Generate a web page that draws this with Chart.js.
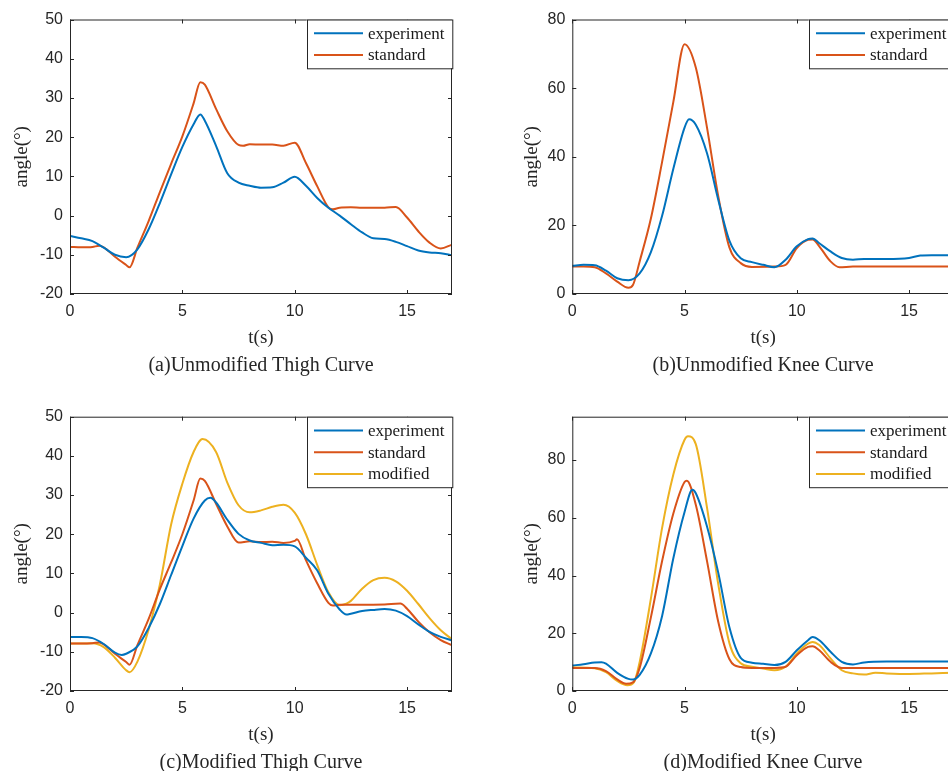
<!DOCTYPE html>
<html>
<head>
<meta charset="utf-8">
<script src="https://cdn.jsdelivr.net/npm/chart.js@4.4.0/dist/chart.umd.min.js"></script>
<style>
  html, body { margin: 0; padding: 0; background: #fff; overflow: hidden; width: 948px; height: 771px; }
  .panel { position: absolute; }
  .caption { position: absolute; font-family: "Liberation Serif", serif; font-size: 20px; line-height: 24px; color: #262626; white-space: nowrap; transform: translateX(-50%); }
</style>
</head>
<body>
<canvas id="thighRaw" class="panel"></canvas>
<canvas id="kneeRaw" class="panel"></canvas>
<canvas id="thighMod" class="panel"></canvas>
<canvas id="kneeMod" class="panel"></canvas>
<div class="caption" style="left:261px; top:352px;">(a)Unmodified Thigh Curve</div>
<div class="caption" style="left:763px; top:352px;">(b)Unmodified Knee Curve</div>
<div class="caption" style="left:261px; top:749px;">(c)Modified Thigh Curve</div>
<div class="caption" style="left:763px; top:749px;">(d)Modified Knee Curve</div>
<script>
const seriesNames = ['experiment', 'standard', 'modified'];
const seriesColors = ['#0072BD', '#D95319', '#EDB120'];

// (a) unmodified thigh
const thighRawExpT = [0,0.5,1,1.5,2,2.5,3,3.5,4,4.5,5,5.5,5.8,6,6.5,7,7.5,8,8.5,9,9.5,10,10.5,11,11.5,12,12.5,13,13.5,14,14.5,15,15.5,16,16.5,17];
const thighRawExpY = [-5.2,-5.8,-6.5,-8.2,-10.0,-10.6,-8.6,-3.5,3.2,10.5,17.5,23.3,25.8,24.2,17.8,10.8,8.4,7.6,7.1,7.2,8.4,9.9,7.6,4.5,2.0,0,-2.2,-4.3,-5.8,-6.0,-6.7,-7.8,-8.9,-9.4,-9.6,-10.1];
const thighRawStdT = [0,0.5,1,1.3,1.5,2,2.5,2.65,3,3.5,4,4.5,5,5.5,5.8,6,6.5,7,7.5,7.7,8,8.5,9,9.5,10,10.5,11,11.5,11.7,12,12.5,13,13.5,14,14.5,15,15.5,16,16.5,17];
const thighRawStdY = [-8.0,-8.1,-8.0,-7.7,-8.1,-10.5,-12.6,-13.2,-8.2,-1.4,6.0,13.2,20.2,28.6,34.0,33.4,27.2,21.5,18.0,17.8,18.2,18.1,18.1,17.8,18.6,13.4,7.5,2.1,1.6,2.0,2.1,2.0,2.0,2.0,2.2,-0.5,-4.0,-6.9,-8.4,-7.4];

// (b) unmodified knee
const kneeRawExpT = [0,0.5,1,1.5,2,2.5,3,3.5,4,4.5,5,5.2,5.5,6,6.5,7,7.5,8,8.5,9,9.5,10,10.5,10.7,11,11.5,12,12.5,13,14,15,15.5,16,17];
const kneeRawExpY = [8.2,8.5,8.4,6.8,4.6,4.0,6.0,12.2,22.8,36.5,48.5,50.9,49.3,41,27.5,15.5,10.4,9.3,8.5,7.8,10.0,13.9,16.0,16.2,14.8,12.4,10.5,10.0,10.2,10.2,10.5,11.2,11.3,11.3];
const kneeRawStdT = [0,0.5,1,1.5,2,2.5,2.7,3,3.5,4,4.5,5,5.5,6,6.5,7,7.5,8,9,9.5,10,10.5,10.7,11,11.5,11.9,12.5,17];
const kneeRawStdY = [8.0,8.0,7.8,6.0,3.6,1.8,2.6,9.5,22,38.5,56,72.8,66,48.5,28.5,13.5,9,7.9,8,8.5,13.4,15.8,15.9,13.9,9.5,7.8,8,8];

// (c) modified thigh
const thighModExpT = [0,0.5,1,1.5,2,2.3,2.5,3,3.5,4,4.5,5,5.5,6,6.25,6.5,7,7.5,8,8.5,9,9.5,10,10.5,11,11.5,12,12.3,12.5,13,13.5,14,14.5,15,15.5,16,16.5,17];
const thighModExpY = [-6.2,-6.2,-6.5,-8.0,-10.2,-10.8,-10.5,-8.6,-3.9,2.2,9.6,17,24,28.6,29.3,28.1,23.7,20.1,18.4,17.8,17.2,17.3,16.9,14,10.8,4.8,0.8,-0.5,-0.3,0.4,0.7,0.9,0.5,-0.9,-3.0,-4.9,-6.2,-7.1];
const thighModStdT = [0,0.5,1,1.3,1.5,2,2.5,2.65,3,3.5,4,4.5,5,5.5,5.8,6,6.5,7,7.5,8,8.5,9,9.5,10,10.1,10.5,11,11.5,11.7,12,13,14,14.7,15,15.5,16,16.5,17];
const thighModStdY = [-7.9,-7.9,-7.8,-7.6,-8.1,-10.5,-12.6,-13.3,-8.3,-1.6,6.0,12.8,20,28.6,34.2,33.6,27.8,22,17.9,18.2,18,18.1,17.8,18.3,18.7,13.4,7.5,2.5,1.8,2.0,2.0,2.1,2.3,1.0,-2.3,-5.0,-7.0,-8.3];
const thighModModT = [0,0.5,1,1.5,2,2.5,2.65,3,3.5,4,4.5,5,5.5,5.9,6.5,7,7.5,8,8.5,9,9.5,10,10.5,11,11.5,12,12.3,12.5,13,13.5,14,14.5,15,15.5,16,16.5,17];
const thighModModY = [-7.9,-7.9,-7.8,-8.8,-11.5,-14.7,-15.2,-12.5,-4.3,7.2,22.5,32.9,41,44.3,41,33.2,27.4,25.6,26.1,27,27.5,25.5,20,12.2,5.2,1.9,2.3,3.0,6.1,8.3,8.9,8.0,5.6,2.2,-1.4,-4.5,-6.8];

// (d) modified knee
const kneeModExpT = [0,0.5,1,1.3,1.5,2,2.5,2.7,3,3.5,4,4.5,5,5.35,5.5,6,6.5,7,7.5,8,8.5,9,9.5,10,10.5,10.7,11,11.5,12,12.5,13,14,15,17];
const kneeModExpY = [8.8,9.3,9.9,10.0,9.5,6.3,4.2,4.0,5.6,13,26,46,62,69.7,68.5,57,41,22,11.5,9.8,9.4,9,10.1,14.1,17.6,18.7,17.6,13.6,10.1,9.2,9.9,10.2,10.2,10.2];
const kneeModStdT = [0,1,1.5,2,2.4,2.7,3,3.5,4,4.5,5,5.1,5.5,6,6.5,7,7.5,8,9,9.5,10,10.5,10.7,11,11.5,12,17];
const kneeModStdY = [8,8,6.9,4.0,2.5,3.0,8,25.5,45,61.5,72.4,72.8,64.5,45,24,11,8.3,8,8,8.4,12.4,15.3,15.5,14.1,10.1,8,8];
const kneeModModT = [0,1,1.5,2,2.45,2.75,3,3.5,4,4.5,5,5.15,5.5,6,6.5,7,7.5,8,8.5,9,9.5,10,10.5,10.7,11,11.5,12,12.5,13,13.5,14,15,16,17];
const kneeModModY = [8.2,7.9,6.5,3.5,2.0,3.1,10,32,56.5,75,87,88.2,85.5,63.5,37,16.5,9.6,8.4,7.8,7.2,8.4,13,16.4,17,15.9,11.3,7.2,6.1,5.7,6.3,6.1,5.9,6.1,6.3];

const xTicksStep = 5;
const xMax = 17;

function pts(t, y) { return t.map((v, i) => ({ x: v, y: y[i] })); }

// box, inward ticks and legend drawn on top of the plot
const framePlugin = {
  id: 'frame',
  afterDatasetsDraw(chart) {
    const { ctx, chartArea: ca, scales } = chart;
    ctx.save();
    ctx.strokeStyle = '#262626';
    ctx.lineWidth = 1;
    ctx.strokeRect(ca.left + 0.5, ca.top + 0.5, ca.right - ca.left - 1, ca.bottom - ca.top - 1);
    ctx.beginPath();
    scales.x.ticks.forEach(t => {
      const px = Math.round(scales.x.getPixelForValue(t.value)) + 0.5;
      ctx.moveTo(px, ca.bottom); ctx.lineTo(px, ca.bottom - 4);
      ctx.moveTo(px, ca.top); ctx.lineTo(px, ca.top + 4);
    });
    scales.y.ticks.forEach(t => {
      const py = Math.round(scales.y.getPixelForValue(t.value)) + 0.5;
      ctx.moveTo(ca.left, py); ctx.lineTo(ca.left + 4, py);
      ctx.moveTo(ca.right, py); ctx.lineTo(ca.right - 4, py);
    });
    ctx.stroke();

    // legend
    const ds = chart.data.datasets;
    const bw = 145.3, bh = 5.4 + 21.7 * ds.length;
    const bl = ca.right - bw, bt = ca.top;
    ctx.fillStyle = '#fff';
    ctx.fillRect(bl, bt, bw, bh);
    ctx.strokeRect(Math.round(bl) + 0.5, bt + 0.5, bw, bh);
    ctx.font = '17px "Liberation Serif", serif';
    ctx.textBaseline = 'middle';
    ds.forEach((d, i) => {
      const ry = bt + 13.8 + 21.7 * i;
      ctx.strokeStyle = d.borderColor;
      ctx.lineWidth = 2;
      ctx.beginPath();
      ctx.moveTo(bl + 7.3, ry); ctx.lineTo(bl + 56.3, ry);
      ctx.stroke();
      ctx.fillStyle = '#1a1a1a';
      ctx.fillText(d.label, bl + 61.3, ry + 1);
    });
    ctx.restore();
  }
};

function makePanel(id, p) {
  const canvas = document.getElementById(id);
  canvas.width = p.w; canvas.height = p.h;
  canvas.style.left = p.left + 'px';
  canvas.style.top = p.top + 'px';
  const datasets = p.series.map((s, i) => ({
    label: seriesNames[i],
    data: pts(s[0], s[1]),
    borderColor: seriesColors[i],
    borderWidth: 2,
    pointRadius: 0,
    fill: false,
    cubicInterpolationMode: 'monotone'
  }));
  const tickFont = { family: '"Liberation Sans", Arial, sans-serif', size: 16 };
  const titleFont = { family: '"Liberation Serif", serif', size: 19 };
  new Chart(canvas, {
    type: 'line',
    data: { datasets },
    options: {
      responsive: false,
      animation: false,
      layout: { padding: { left: 0, top: p.padTop, right: p.padRight, bottom: 0 } },
      plugins: { legend: { display: false }, tooltip: { enabled: false } },
      scales: {
        x: {
          type: 'linear', min: 0, max: xMax,
          grid: { display: false, drawTicks: false },
          border: { display: false },
          ticks: { stepSize: xTicksStep, includeBounds: false, padding: 8, color: '#262626', font: tickFont, maxRotation: 0 },
          title: { display: true, text: 't(s)', color: '#262626', font: titleFont, padding: { top: 0, bottom: p.xTitlePad } },
          afterFit: s => { s.height = p.xHeight; }
        },
        y: {
          min: p.yMin, max: p.yMax,
          grid: { display: false, drawTicks: false },
          border: { display: false },
          ticks: { stepSize: p.yStep, includeBounds: false, padding: 7, color: '#262626', font: tickFont },
          title: { display: true, text: 'angle(°)', color: '#262626', font: titleFont, padding: { top: p.yTitlePad, bottom: 0 } },
          afterFit: s => { s.width = p.yWidth; }
        }
      }
    },
    plugins: [framePlugin]
  });
}

const lh = 19 * 1.2;
makePanel('thighRaw', {
  left: 0, top: 0, w: 480, h: 360, padTop: 19.5, padRight: 28, yWidth: 70, xHeight: 360 - 294,
  xTitlePad: 360 - lh / 2 - 338, yTitlePad: 22 - lh / 2,
  yMin: -20, yMax: 50, yStep: 10,
  series: [[thighRawExpT, thighRawExpY], [thighRawStdT, thighRawStdY]]
});
makePanel('kneeRaw', {
  left: 490, top: 0, w: 490, h: 360, padTop: 19.5, padRight: 26, yWidth: 82.3, xHeight: 360 - 294,
  xTitlePad: 360 - lh / 2 - 338, yTitlePad: 41.7 - lh / 2,
  yMin: 0, yMax: 80, yStep: 20,
  series: [[kneeRawExpT, kneeRawExpY], [kneeRawStdT, kneeRawStdY]]
});
makePanel('thighMod', {
  left: 0, top: 385, w: 480, h: 386, padTop: 31.7, padRight: 28, yWidth: 70, xHeight: 386 - 306,
  xTitlePad: 386 - lh / 2 - 350, yTitlePad: 22 - lh / 2,
  yMin: -20, yMax: 50, yStep: 10,
  series: [[thighModExpT, thighModExpY], [thighModStdT, thighModStdY], [thighModModT, thighModModY]]
});
makePanel('kneeMod', {
  left: 490, top: 385, w: 490, h: 386, padTop: 31.7, padRight: 26, yWidth: 82.3, xHeight: 386 - 306,
  xTitlePad: 386 - lh / 2 - 350, yTitlePad: 41.7 - lh / 2,
  yMin: 0, yMax: 95, yStep: 20,
  series: [[kneeModExpT, kneeModExpY], [kneeModStdT, kneeModStdY], [kneeModModT, kneeModModY]]
});
</script>
</body>
</html>
